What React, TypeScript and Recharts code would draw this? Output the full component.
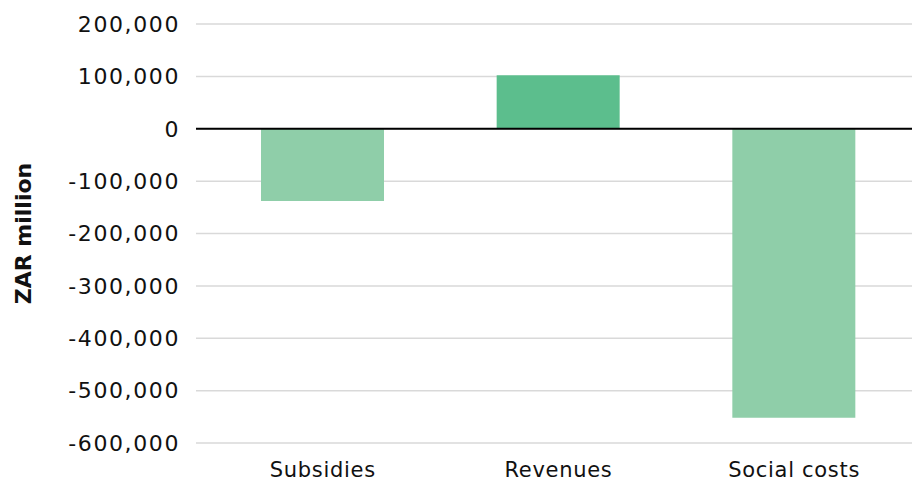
import { BarChart, Bar, XAxis, YAxis, CartesianGrid, ReferenceLine, Cell } from "recharts"

const categories = ["Subsidies", "Revenues", "Social costs"]
const values = [-138000, 102000, -552000]
const yTicks = [-600000, -500000, -400000, -300000, -200000, -100000, 0, 100000, 200000]

const barColors = ["#8fcea9", "#5cbe8d", "#8fcea9"]
const font = "'DejaVu Sans', sans-serif"

const data = categories.map((name, i) => ({ name, value: values[i] }))

export default function App() {
  return (
    <div style={{ position: "absolute", left: 0, top: 0, fontFamily: font }}>
      <BarChart
        width={912}
        height={482}
        data={data}
        margin={{ top: 24, right: 0, bottom: 0, left: 0 }}
      >
        <CartesianGrid vertical={false} stroke="#d9d9d9" strokeWidth={1.5} />
        <XAxis
          dataKey="name"
          height={39}
          padding={{ left: 9, right: 0 }}
          axisLine={false}
          tickLine={false}
          tickMargin={13}
          tick={{ fontSize: 21, fill: "#111", fontFamily: font, letterSpacing: 0.7 }}
        />
        <YAxis
          width={196}
          domain={[-600000, 200000]}
          ticks={yTicks}
          axisLine={false}
          tickLine={false}
          tickMargin={10}
          tickFormatter={(v: number) => v.toLocaleString("en-US")}
          tick={{ fontSize: 22, fill: "#111", fontFamily: font, letterSpacing: 1.6 }}
          label={{
            value: "ZAR million",
            angle: -90,
            position: "insideLeft",
            offset: 23,
            style: { fontSize: 22, fontWeight: 700, fill: "#111", fontFamily: font, textAnchor: "middle" },
          }}
        />
        <Bar dataKey="value" barSize={123} isAnimationActive={false}>
          {data.map((d, i) => (
            <Cell key={d.name} fill={barColors[i]} />
          ))}
        </Bar>
        <ReferenceLine y={0} stroke="#000" strokeWidth={2} />
      </BarChart>
    </div>
  )
}
